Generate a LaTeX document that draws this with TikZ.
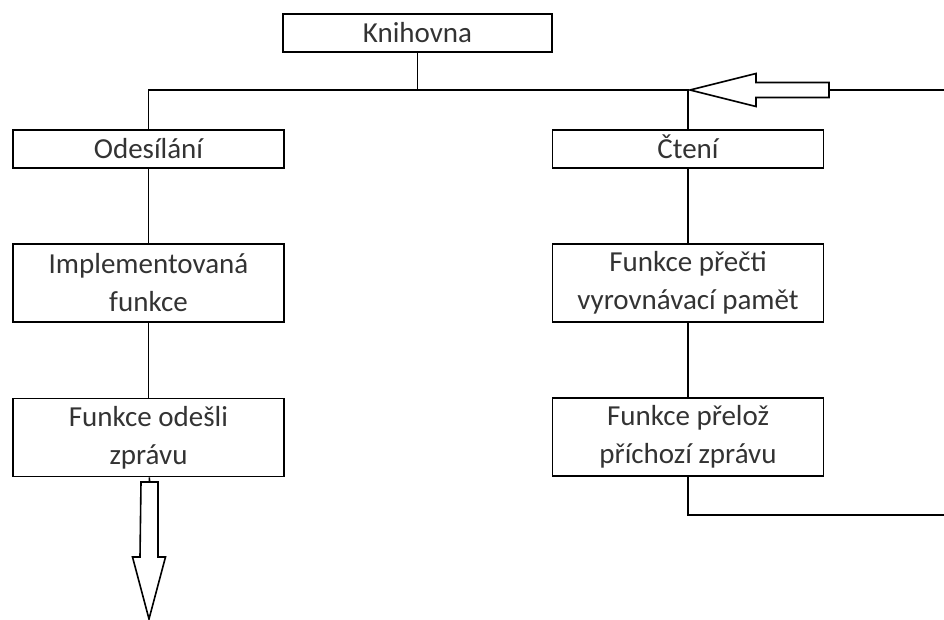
\documentclass[tikz,border=0pt]{standalone}
\usepackage{fontspec}
\setmainfont{Carlito}
\begin{document}
\begin{tikzpicture}[x=1pt,y=-1pt,line width=1.6pt,
  box/.style={draw,rectangle,align=center,text=black!80,inner sep=0pt,
    font=\fontsize{29}{38}\selectfont,minimum width=271,minimum height=38},
  single/.style={text height=19,text depth=0},
  tall/.style={minimum height=78},
  hollow/.style={draw,fill=white,line join=miter}]
  \useasboundingbox (0,0) rectangle (944,619);

  % Top: library
  \node[box, single, minimum width=269] (knihovna) at (417.5,33) {Knihovna};

  % Left branch: sending
  \node[box, single] (odesilani) at (148.5,149) {Odesílání};
  \node[box, tall] (implementovana) at (148.5,283) {Implementovaná\\funkce};
  \node[box, tall] (odesli) at (148.5,437.5) {Funkce odešli\\zprávu};

  % Right branch: reading
  \node[box, single] (cteni) at (688,149) {Čtení};
  \node[box, tall] (precti) at (688,283) {Funkce přečti\\vyrovnávací pamět};
  \node[box, tall] (preloz) at (688,437) {Funkce přelož\\příchozí zprávu};

  % Bus under library
  \coordinate (bus) at (417.5,90);
  \draw (knihovna) -- (bus);
  \draw (odesilani) -- (odesilani |- bus) -- (cteni |- bus) -- (cteni);

  % Columns
  \draw (odesilani) -- (implementovana);
  \draw (implementovana) -- (odesli);
  \draw (cteni) -- (precti);
  \draw (precti) -- (preloz);

  % Incoming message
  \coordinate (intip) at (690,90);
  \coordinate (intail) at (829,90);
  \coordinate (inend) at (944,90);
  \draw (inend) -- (intail);
  \draw[hollow] (intip) -- ++(66,-16.5) -- ++(0,9) -- ++(73,0) -- ++(0,15)
    -- ++(-73,0) -- ++(0,9) -- cycle;

  % Outgoing message
  \coordinate (outtop) at (149.5,482);
  \draw (odesli) -- (outtop);
  \draw[hollow] (outtop) ++(-8.5,0) -- ++(17,0) -- ++(0,75) -- ++(7.5,0)
    -- ++(-16.5,62) -- ++(-16.5,-62) -- ++(7.5,0) -- cycle;

  % Loop back from translation
  \coordinate (loopend) at (944,515);
  \draw (preloz) |- (loopend);
\end{tikzpicture}
\end{document}
